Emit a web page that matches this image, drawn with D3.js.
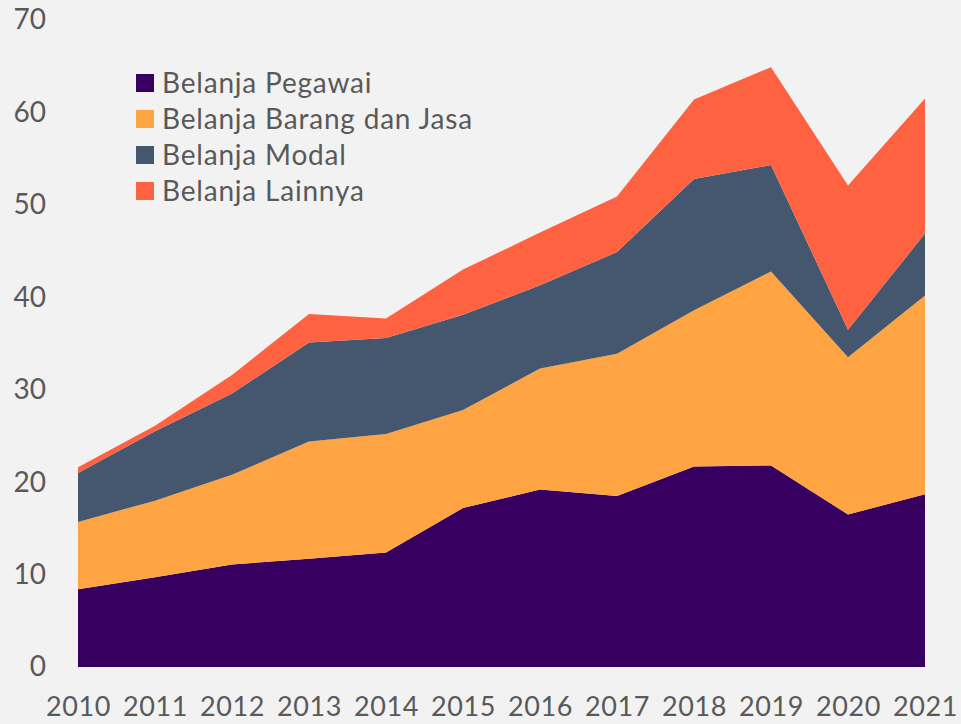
<!DOCTYPE html>
<html>
<head>
<meta charset="utf-8">
<script src="https://cdn.jsdelivr.net/npm/d3@7"></script>
<style>
  html, body { margin: 0; padding: 0; background: #f2f2f2; }
  svg { display: block; font-family: Lato, "Open Sans", sans-serif; }
</style>
</head>
<body>
<svg id="chart" width="961" height="724"></svg>
<script>
// years on the x axis
var years = [2010, 2011, 2012, 2013, 2014, 2015, 2016, 2017, 2018, 2019, 2020, 2021];

// series values
var pegawai = [8.4, 9.7, 11.1, 11.7, 12.4, 17.2, 19.2, 18.5, 21.7, 21.8, 16.5, 18.7];
var barangJasa = [7.3, 8.3, 9.7, 12.7, 12.8, 10.6, 13.1, 15.4, 16.9, 21.0, 17.0, 21.5];
var modal = [5.3, 7.5, 8.8, 10.7, 10.4, 10.3, 9.0, 11.0, 14.2, 11.5, 3.0, 6.7];
var lainnya = [0.6, 0.6, 2.0, 3.1, 2.1, 4.9, 5.7, 6.0, 8.6, 10.6, 15.6, 14.6];

var seriesNames = ['Belanja Pegawai', 'Belanja Barang dan Jasa', 'Belanja Modal', 'Belanja Lainnya'];
var colors = ['#370060', '#ffa443', '#44576f', '#ff6241'];
var yTicks = [0, 10, 20, 30, 40, 50, 60, 70];

var svg = d3.select('#chart');

var x = d3.scaleLinear()
  .domain([2010, 2021])
  .range([78, 925]);

var y = d3.scaleLinear()
  .domain([0, 70])
  .range([667, 20]);

var rows = years.map(function (yr, i) {
  return {
    year: yr,
    s0: pegawai[i],
    s1: barangJasa[i],
    s2: modal[i],
    s3: lainnya[i]
  };
});

var stack = d3.stack().keys(['s0', 's1', 's2', 's3']);
var layers = stack(rows);

var area = d3.area()
  .x(function (d) { return x(d.data.year); })
  .y0(function (d) { return y(d[0]); })
  .y1(function (d) { return y(d[1]); });

svg.append('g')
  .selectAll('path')
  .data(layers)
  .enter()
  .append('path')
  .attr('d', area)
  .attr('fill', function (d, i) { return colors[i]; });

// y axis, labels only
var yAxis = svg.append('g')
  .attr('transform', 'translate(46,0)')
  .call(d3.axisLeft(y).tickValues(yTicks).tickSize(0).tickPadding(0));
yAxis.select('.domain').remove();
yAxis.selectAll('text')
  .attr('font-family', 'Lato, "Open Sans", sans-serif')
  .attr('font-size', 28)
  .attr('fill', '#595959');

// x axis, labels only
var xAxis = svg.append('g')
  .attr('transform', 'translate(0,697)')
  .call(d3.axisBottom(x).tickValues(years).tickFormat(d3.format('d')).tickSize(0).tickPadding(0));
xAxis.select('.domain').remove();
xAxis.selectAll('text')
  .attr('font-family', 'Lato, "Open Sans", sans-serif')
  .attr('font-size', 27)
  .attr('letter-spacing', 0.6)
  .attr('fill', '#595959');

// legend
var legend = svg.append('g')
  .attr('transform', 'translate(136,83)');

var item = legend.selectAll('g')
  .data(seriesNames)
  .enter()
  .append('g')
  .attr('transform', function (d, i) { return 'translate(0,' + (i * 36) + ')'; });

item.append('rect')
  .attr('x', 0)
  .attr('y', -9)
  .attr('width', 18)
  .attr('height', 18)
  .attr('fill', function (d, i) { return colors[i]; });

item.append('text')
  .attr('x', 26)
  .attr('y', 0)
  .attr('dy', '0.35em')
  .attr('font-size', 28)
  .attr('letter-spacing', 0.8)
  .attr('fill', '#595959')
  .text(function (d) { return d; });
</script>
</body>
</html>
